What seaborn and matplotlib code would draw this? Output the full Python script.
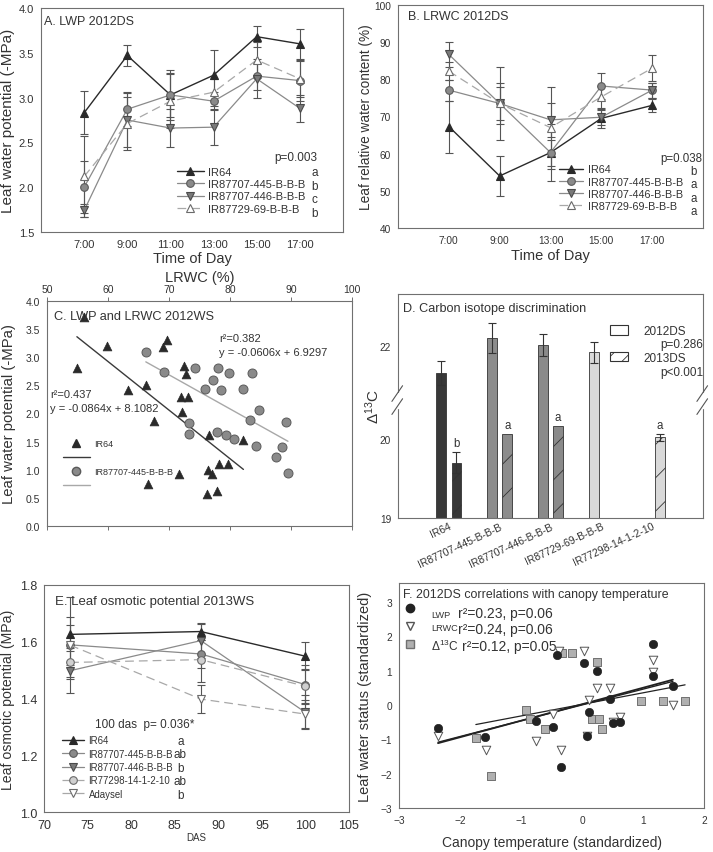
import numpy as np
import pandas as pd
import matplotlib
matplotlib.use("Agg")
import matplotlib.pyplot as plt
from matplotlib.lines import Line2D
from matplotlib.patches import Patch
import seaborn as sns

# ---------------- data ----------------
G_IR64 = "IR64"
G_445 = "IR87707-445-B-B-B"
G_446 = "IR87707-446-B-B-B"
G_69 = "IR87729-69-B-B-B"
G_77298 = "IR77298-14-1-2-10"
G_ADA = "Adaysel"

# Panel A: leaf water potential 2012DS
times_A = ["7:00", "9:00", "11:00", "13:00", "15:00", "17:00"]
lwp_IR64 = [2.83, 3.47, 3.03, 3.25, 3.68, 3.60]
lwp_IR64_se = [0.24, 0.12, 0.28, 0.28, 0.12, 0.17]
lwp_445 = [2.00, 2.87, 3.03, 2.96, 3.24, 3.19]
lwp_445_se = [0.29, 0.19, 0.25, 0.10, 0.15, 0.23]
lwp_446 = [1.74, 2.75, 2.66, 2.67, 3.21, 2.88]
lwp_446_se = [0.07, 0.30, 0.21, 0.20, 0.22, 0.15]
lwp_69 = [2.12, 2.71, 2.96, 3.06, 3.42, 3.21]
lwp_69_se = [0.45, 0.30, 0.30, 0.15, 0.20, 0.20]
letters_A = ["a", "b", "c", "b"]

# Panel B: leaf relative water content 2012DS
times_B = ["7:00", "9:00", "13:00", "15:00", "17:00"]
lrwc_IR64 = [67.3, 54.0, 60.3, 69.5, 73.0]
lrwc_IR64_se = [7.0, 5.3, 3.5, 2.5, 1.8]
lrwc_445 = [77.1, 73.5, 60.3, 78.2, 77.1]
lrwc_445_se = [2.8, 4.5, 7.7, 3.5, 2.0]
lrwc_446 = [86.7, 73.5, 69.1, 69.8, 77.1]
lrwc_446_se = [3.3, 9.7, 4.5, 2.0, 2.0]
lrwc_69 = [82.2, 73.5, 67.0, 75.3, 83.0]
lrwc_69_se = [2.5, 5.5, 11.0, 3.0, 3.5]
letters_B = ["b", "a", "a", "a"]

# Panel C: LWP vs LRWC 2012WS
c_IR64_lrwc = [56.1, 54.9, 59.9, 69.0, 69.6, 66.2, 63.2, 72.4, 72.8, 71.9, 73.1,
               72.1, 67.6, 76.5, 82.2, 78.2, 79.6, 76.4, 77.1, 71.7, 66.6, 76.3, 77.9]
c_IR64_lwp = [3.71, 2.81, 3.20, 3.19, 3.31, 2.51, 2.41, 2.85, 2.70, 2.29, 2.29,
              2.03, 1.86, 1.61, 1.53, 1.11, 1.10, 0.99, 0.92, 0.92, 0.75, 0.57, 0.62]
c_445_lrwc = [66.2, 69.2, 74.2, 77.2, 78.1, 79.8, 83.6, 75.9, 78.6, 82.1, 84.8,
              73.3, 83.2, 89.2, 73.3, 77.9, 79.4, 80.6, 84.3, 88.6, 87.6, 89.5]
c_445_lwp = [3.09, 2.73, 2.81, 2.60, 2.81, 2.72, 2.72, 2.44, 2.42, 2.43, 2.06,
             1.83, 1.88, 1.85, 1.64, 1.68, 1.61, 1.55, 1.42, 1.41, 1.23, 0.94]
c_fit_slope = [-0.0864, -0.0606]
c_fit_intercept = [8.1082, 6.9297]
c_fit_r2 = [0.437, 0.382]

# Panel D: carbon isotope discrimination
genotypes_D = [G_IR64, G_445, G_446, G_69, G_77298]
seasons_D = ["2012DS", "2013DS"]
d13c_2012 = [21.66, 22.10, 22.02, 21.92, np.nan]
d13c_2012_se = [0.15, 0.19, 0.14, 0.13, np.nan]
d13c_2013 = [19.70, 20.06, 20.16, np.nan, 20.02]
d13c_2013_se = [0.13, 0.0, 0.0, np.nan, 0.04]
letters_D = ["b", "a", "a", "", "a"]
p_D = ["p=0.286", "p<0.001"]

# Panel E: leaf osmotic potential 2013WS
das_E = [73, 88, 100]
osm_IR64 = [1.626, 1.636, 1.549]
osm_IR64_se = [0.06, 0.03, 0.05]
osm_445 = [1.589, 1.557, 1.449]
osm_445_se = [0.17, 0.05, 0.07]
osm_446 = [1.498, 1.604, 1.351]
osm_446_se = [0.03, 0.06, 0.06]
osm_77298 = [1.527, 1.537, 1.443]
osm_77298_se = [0.05, 0.08, 0.06]
osm_ada = [1.588, 1.398, 1.345]
osm_ada_se = [0.07, 0.05, 0.05]
letters_E = ["a", "ab", "b", "ab", "b"]

# Panel F: standardized correlations with canopy temperature
f_lwp_ct = [-2.36, -1.59, -0.75, -0.48, -0.41, -0.35, 0.03, 0.12, 0.09, 0.25,
            0.46, 0.51, 0.63, 1.16, 1.16, 1.49]
f_lwp = [-0.66, -0.93, -0.46, -0.63, 1.44, -1.80, 1.22, -0.21, -0.91, 1.00,
         0.17, -0.52, -0.50, 1.76, 0.83, 0.56]
f_lrwc_ct = [-2.36, -1.58, -0.75, -0.47, -0.35, -0.38, 0.03, 0.12, 0.09, 0.25,
             0.46, 0.51, 0.63, 1.16, 1.16, 1.49]
f_lrwc = [-0.89, -1.30, -1.04, -0.26, -1.30, 1.58, 1.56, 0.15, -0.91, 0.49,
          0.49, -0.50, -0.34, 1.32, 0.95, 0.00]
f_d13c_ct = [-1.74, -1.50, -0.91, -0.86, -0.60, -0.33, -0.16, 0.25, 0.17, 0.28,
             0.33, 0.96, 1.33, 1.69]
f_d13c = [-0.96, -2.07, -0.15, -0.41, -0.70, 1.50, 1.50, 1.24, -0.41, -0.41,
          -0.70, 0.12, 0.12, 0.12]
f_fit_slope = [0.48, 0.46, 0.337]
f_fit_intercept = [0.02, 0.00, 0.016]
f_stats = ["r\u00b2=0.23, p=0.06", "r\u00b2=0.24, p=0.06", "r\u00b2=0.12, p=0.05"]

# ---------------- styling ----------------
sns.set_theme(style="white")
plt.rcParams["font.family"] = ["Liberation Sans", "DejaVu Sans"]
plt.rcParams["mathtext.default"] = "regular"
plt.rcParams["hatch.linewidth"] = 0.6
TXT = "#333333"
SPINE = "#707070"
plt.rcParams["text.color"] = TXT

STY = {
    G_IR64: dict(color="#2a2a2a", ls="-", marker="^", mfc="#2a2a2a", mec="#2a2a2a", lw=1.0),
    G_445: dict(color="#8a8a8a", ls="-", marker="o", mfc="#8a8a8a", mec="#5a5a5a", lw=0.9),
    G_446: dict(color="#8a8a8a", ls="-", marker="v", mfc="#7a7a7a", mec="#4a4a4a", lw=0.9),
    G_69: dict(color="#a8a8a8", ls=(0, (7, 4)), marker="^", mfc="white", mec="#6a6a6a", lw=0.9),
    G_77298: dict(color="#a8a8a8", ls=(0, (7, 4)), marker="o", mfc="#d0d0d0", mec="#6a6a6a", lw=0.9),
    G_ADA: dict(color="#a8a8a8", ls=(0, (7, 4)), marker="v", mfc="white", mec="#6a6a6a", lw=0.9),
}

W, H = 713, 853
fig = plt.figure(figsize=(W / 100, H / 100), dpi=100)


def add_ax(x0, y0, x1, y1):
    return fig.add_axes([x0 / W, 1 - y1 / H, (x1 - x0) / W, (y1 - y0) / H])


def style_ax(ax, tick_size=7):
    for s in ax.spines.values():
        s.set_color(SPINE)
        s.set_linewidth(0.8)
    ax.tick_params(direction="out", length=3, width=0.7, color=SPINE,
                   labelsize=tick_size, labelcolor=TXT, pad=2)


def line_panel(ax, xpos, names, ys, ses, ms=5.5):
    for name, y, se in zip(names, ys, ses):
        ax.errorbar(xpos, y, yerr=se, fmt="none", ecolor="#555555", elinewidth=0.8,
                    capsize=3, capthick=0.8, zorder=2)
    for name, y in zip(names, ys):
        st = STY[name]
        sns.lineplot(x=xpos, y=y, ax=ax, color=st["color"], linestyle=st["ls"],
                     linewidth=st["lw"], marker=st["marker"], markersize=ms,
                     markerfacecolor=st["mfc"], markeredgecolor=st["mec"],
                     markeredgewidth=0.8, zorder=3)


def legend_handles(names, ms=5.5):
    hs = []
    for n in names:
        st = STY[n]
        hs.append(Line2D([], [], color=st["color"], linestyle=st["ls"], linewidth=st["lw"],
                         marker=st["marker"], markersize=ms, markerfacecolor=st["mfc"],
                         markeredgecolor=st["mec"], markeredgewidth=0.8))
    return hs


# ---------------- Panel A ----------------
axA = add_ax(41, 9, 343, 233)
names_A = [G_IR64, G_445, G_446, G_69]
xA = list(range(len(times_A)))
line_panel(axA, xA, names_A, [lwp_IR64, lwp_445, lwp_446, lwp_69],
           [lwp_IR64_se, lwp_445_se, lwp_446_se, lwp_69_se])
axA.set_xlim(-1, 6)
axA.set_ylim(1.5, 4.0)
axA.set_xticks(xA)
axA.set_xticklabels(times_A)
axA.set_yticks(np.arange(1.5, 4.01, 0.5))
style_ax(axA, 8)
axA.set_xlabel("Time of Day", fontsize=10.5, color=TXT)
axA.set_ylabel("Leaf water potential (-MPa)", fontsize=11, color=TXT)
axA.yaxis.set_label_coords(-0.085, 0.5)
axA.xaxis.set_label_coords(0.5, -0.085)
axA.text(0.01, 0.94, "A. LWP 2012DS", transform=axA.transAxes, fontsize=9, va="center")
legA = axA.legend(legend_handles(names_A), names_A, loc="upper left",
                  bbox_to_anchor=(0.45, 0.29), frameon=False, fontsize=8.0,
                  handlelength=2.4, handletextpad=0.4, labelspacing=0.2,
                  borderpad=0, borderaxespad=0)
for t in legA.get_texts():
    t.set_color(TXT)
axA.text(0.915, 0.335, "p=0.003", transform=axA.transAxes, fontsize=8.5, ha="right", va="center")
for i, l in enumerate(letters_A):
    axA.text(0.905, 0.266 - i * 0.060, l, transform=axA.transAxes, fontsize=8.5,
             ha="center", va="center")

# ---------------- Panel B ----------------
axB = add_ax(398, 6, 703, 229)
xB = list(range(len(times_B)))
line_panel(axB, xB, names_A, [lrwc_IR64, lrwc_445, lrwc_446, lrwc_69],
           [lrwc_IR64_se, lrwc_445_se, lrwc_446_se, lrwc_69_se])
axB.set_xlim(-1, 5)
axB.set_ylim(40, 100)
axB.set_xticks(xB)
axB.set_xticklabels(times_B)
axB.set_yticks(np.arange(40, 101, 10))
style_ax(axB, 7.3)
axB.set_xlabel("Time of Day", fontsize=10.5, color=TXT)
axB.set_ylabel("Leaf relative water content (%)", fontsize=9.8, color=TXT)
axB.yaxis.set_label_coords(-0.082, 0.5)
axB.xaxis.set_label_coords(0.5, -0.09)
axB.text(0.033, 0.95, "B. LRWC 2012DS", transform=axB.transAxes, fontsize=9, va="center")
legB = axB.legend(legend_handles(names_A), names_A, loc="upper left",
                  bbox_to_anchor=(0.528, 0.285), frameon=False, fontsize=7.8,
                  handlelength=2.2, handletextpad=0.5, labelspacing=0.2,
                  borderpad=0, borderaxespad=0)
for t in legB.get_texts():
    t.set_color(TXT)
axB.text(0.998, 0.314, "p=0.038", transform=axB.transAxes, fontsize=8.3, ha="right", va="center")
for i, l in enumerate(letters_B):
    axB.text(0.97, 0.256 - i * 0.06, l, transform=axB.transAxes, fontsize=8.3,
             ha="center", va="center")

# ---------------- Panel C ----------------
axC = add_ax(47, 302, 352, 527)
sns.scatterplot(x=c_IR64_lrwc, y=c_IR64_lwp, ax=axC, marker="^", s=40, color="#2a2a2a",
                edgecolor="#2a2a2a", linewidth=0.5, zorder=3)
sns.scatterplot(x=c_445_lrwc, y=c_445_lwp, ax=axC, marker="o", s=42, color="#8a8a8a",
                edgecolor="#5a5a5a", linewidth=0.7, zorder=3)
fit_colors = ["#3a3a3a", "#a8a8a8"]
for xs, sl, ic, col in zip([c_IR64_lrwc, c_445_lrwc], c_fit_slope, c_fit_intercept, fit_colors):
    xr = np.array([min(xs), max(xs)])
    sns.lineplot(x=xr, y=sl * xr + ic, ax=axC, color=col, linewidth=1.0, zorder=2)
axC.set_xlim(50, 100)
axC.set_ylim(0, 4)
axC.set_xticks(np.arange(50, 101, 10))
axC.set_yticks(np.arange(0, 4.01, 0.5))
axC.set_yticklabels([f"{v:.1f}" for v in np.arange(0, 4.01, 0.5)])
style_ax(axC, 7.5)
axC.tick_params(axis="x", top=True, labeltop=True, bottom=True, labelbottom=False)
axC.xaxis.set_label_position("top")
axC.set_xlabel("LRWC (%)", fontsize=10.5, color=TXT)
axC.xaxis.set_label_coords(0.5, 1.088)
axC.set_ylabel("Leaf water potential (-MPa)", fontsize=10.7, color=TXT)
axC.yaxis.set_label_coords(-0.1, 0.5)
axC.text(0.023, 0.933, "C. LWP and LRWC 2012WS", transform=axC.transAxes, fontsize=9.2, va="center")
axC.text(0.565, 0.836, f"r\u00b2={c_fit_r2[1]}", transform=axC.transAxes, fontsize=8, va="center")
axC.text(0.565, 0.773, f"y = {c_fit_slope[1]}x + {c_fit_intercept[1]}", transform=axC.transAxes,
         fontsize=8, va="center")
axC.text(0.01, 0.587, f"r\u00b2={c_fit_r2[0]}", transform=axC.transAxes, fontsize=8, va="center")
axC.text(0.01, 0.524, f"y = {c_fit_slope[0]}x + {c_fit_intercept[0]}", transform=axC.transAxes,
         fontsize=8, va="center")
hC = [Line2D([], [], ls="none", marker="^", ms=6, color="#2a2a2a"),
      Line2D([], [], color="#3a3a3a", lw=1.0),
      Line2D([], [], ls="none", marker="o", ms=6, markerfacecolor="#8a8a8a", markeredgecolor="#5a5a5a"),
      Line2D([], [], color="#a8a8a8", lw=1.0)]
legC = axC.legend(hC, ["IR64", " ", G_445, " "], loc="upper left", bbox_to_anchor=(0.052, 0.385),
                  frameon=False, fontsize=6.5, handlelength=3.0, handletextpad=0.5,
                  labelspacing=0.55, borderpad=0, borderaxespad=0, numpoints=1)
for t in legC.get_texts():
    t.set_color(TXT)

# ---------------- Panel D ----------------
axD = add_ax(398, 295, 703, 519)
rows = []
for g, v12, v13 in zip(genotypes_D, d13c_2012, d13c_2013):
    if not np.isnan(v12):
        rows.append(dict(genotype=g, season=seasons_D[0], d13c=v12))
    if not np.isnan(v13):
        rows.append(dict(genotype=g, season=seasons_D[1], d13c=v13))
dfD = pd.DataFrame(rows)
sns.barplot(data=dfD, x="genotype", y="d13c", hue="season", order=genotypes_D,
            hue_order=seasons_D, width=0.6, gap=0.37, errorbar=None, legend=False,
            palette=["#888888", "#888888"], ax=axD, zorder=2)
bar_colors = ["#383838", "#8c8c8c", "#8a8a8a", "#d9d9d9", "#d9d9d9"]
for ci, cont in enumerate(axD.containers):
    for bar in cont:
        gi = int(round(bar.get_x() + bar.get_width() / 2))
        bar.set_facecolor(bar_colors[gi])
        bar.set_edgecolor("#333333")
        bar.set_linewidth(0.6)
        if ci == 1:
            bar.set_hatch("/")
off = 0.15
idx = np.arange(len(genotypes_D))
axD.errorbar(idx - off, d13c_2012, yerr=d13c_2012_se, fmt="none", ecolor="#333333",
             elinewidth=0.8, capsize=3, capthick=0.8, zorder=3)
se13 = np.where(np.array(d13c_2013_se) > 0, d13c_2013_se, np.nan)
axD.errorbar(idx + off, d13c_2013, yerr=se13, fmt="none", ecolor="#333333",
             elinewidth=0.8, capsize=3, capthick=0.8, zorder=3)
for i, (v, s, l) in enumerate(zip(d13c_2013, d13c_2013_se, letters_D)):
    if l:
        axD.text(i + off, v + s + 0.04, l, fontsize=8.3, ha="center", va="bottom")

lo, hi, g = 20.41, 21.40, 0.165


def fwd(v):
    v = np.asarray(v, float)
    return np.where(v <= lo, v, np.where(v >= hi, v - (hi - lo) + g, lo + (v - lo) * g / (hi - lo)))


def inv(u):
    u = np.asarray(u, float)
    return np.where(u <= lo, u, np.where(u >= lo + g, u + (hi - lo) - g, lo + (u - lo) * (hi - lo) / g))


axD.set_yscale("function", functions=(fwd, inv))
axD.set_ylim(19, 22.66)
axD.set_xlim(-1, 5)
axD.set_yticks([19, 20, 22])
axD.set_yticklabels(["19", "20", "22"])
axD.yaxis.set_minor_locator(matplotlib.ticker.NullLocator())
style_ax(axD, 7.3)
axD.tick_params(axis="x", direction="in", length=2)
axD.set_xticks(idx)
axD.set_xticklabels(genotypes_D, rotation=25, ha="right", rotation_mode="anchor", fontsize=7.5)
axD.set_xlabel("")
axD.set_ylabel("$\\Delta^{13}$C", fontsize=11, color=TXT)
axD.yaxis.set_label_coords(-0.052, 0.5)
axD.text(0.016, 0.9375, "D. Carbon isotope discrimination", transform=axD.transAxes,
         fontsize=9.1, va="center")
# axis-break marks
ymax_t = float(fwd(22.66))
f_lo = (lo - 19) / (ymax_t - 19)
f_hi = (lo + g - 19) / (ymax_t - 19)
for xb in (0, 1):
    axD.plot([xb, xb], [f_lo, f_hi], transform=axD.transAxes, color="white", lw=2.5,
             clip_on=False, zorder=5)
    for fb in (f_lo, f_hi):
        axD.plot([xb - 0.02, xb + 0.015], [fb - 0.035, fb + 0.035], transform=axD.transAxes,
                 color="#555555", lw=0.8, clip_on=False, zorder=6)
hD = [Patch(facecolor="white", edgecolor="#333333", linewidth=0.8),
      Patch(facecolor="white", edgecolor="#333333", linewidth=0.8, hatch="//")]
legD = axD.legend(hD, seasons_D, loc="upper left", bbox_to_anchor=(0.695, 0.86),
                  frameon=False, fontsize=8.5, handlelength=1.5, handleheight=0.9,
                  handletextpad=1.3, labelspacing=1.2, borderpad=0, borderaxespad=0)
for t in legD.get_texts():
    t.set_color(TXT)
axD.text(1.0, 0.777, p_D[0], transform=axD.transAxes, fontsize=8.5, ha="right", va="center")
axD.text(1.0, 0.652, p_D[1], transform=axD.transAxes, fontsize=8.5, ha="right", va="center")

# ---------------- Panel E ----------------
axE = add_ax(44, 586, 349, 813)
names_E = [G_IR64, G_445, G_446, G_77298, G_ADA]
line_panel(axE, das_E, names_E, [osm_IR64, osm_445, osm_446, osm_77298, osm_ada],
           [osm_IR64_se, osm_445_se, osm_446_se, osm_77298_se, osm_ada_se], ms=5.5)
axE.set_xlim(70, 105)
axE.set_ylim(1.0, 1.8)
axE.set_xticks(np.arange(70, 106, 5))
axE.set_yticks(np.arange(1.0, 1.81, 0.2))
axE.set_yticklabels([f"{v:.1f}" for v in np.arange(1.0, 1.81, 0.2)])
style_ax(axE, 9)
axE.set_xlabel("DAS", fontsize=7, color=TXT)
axE.xaxis.set_label_coords(0.5, -0.088)
axE.set_ylabel("Leaf osmotic potential (MPa)", fontsize=10.2, color=TXT)
axE.yaxis.set_label_coords(-0.095, 0.5)
axE.text(0.036, 0.93, "E. Leaf osmotic potential 2013WS", transform=axE.transAxes,
         fontsize=9.5, va="center")
axE.text(0.167, 0.388, "100 das  p= 0.036*", transform=axE.transAxes, fontsize=8.5, va="center")
legE = axE.legend(legend_handles(names_E), names_E, loc="upper left",
                  bbox_to_anchor=(0.058, 0.338), frameon=False, fontsize=6.9,
                  handlelength=2.3, handletextpad=0.5, labelspacing=0.35,
                  borderpad=0, borderaxespad=0)
for t in legE.get_texts():
    t.set_color(TXT)
for i, l in enumerate(letters_E):
    axE.text(0.447, 0.313 - i * 0.059, l, transform=axE.transAxes, fontsize=8.5,
             ha="center", va="center")

# ---------------- Panel F ----------------
axF = add_ax(399, 584, 704, 809)
sns.scatterplot(x=f_d13c_ct, y=f_d13c, ax=axF, marker="s", s=34, color="#b0b0b0",
                edgecolor="#707070", linewidth=0.7, zorder=3)
sns.scatterplot(x=f_lrwc_ct, y=f_lrwc, ax=axF, marker="v", s=38, color="white",
                edgecolor="#555555", linewidth=0.7, zorder=4)
sns.scatterplot(x=f_lwp_ct, y=f_lwp, ax=axF, marker="o", s=36, color="#222222",
                edgecolor="#222222", linewidth=0.5, zorder=5)
for xs, sl, ic, lw in zip([f_lwp_ct, f_lrwc_ct, f_d13c_ct], f_fit_slope, f_fit_intercept,
                          [1.3, 1.0, 0.9]):
    xr = np.array([min(xs), max(xs)])
    sns.lineplot(x=xr, y=sl * xr + ic, ax=axF, color="#222222", linewidth=lw, zorder=2)
axF.set_xlim(-3, 2)
axF.set_ylim(-3, 3.55)
axF.set_xticks(np.arange(-3, 3, 1))
axF.set_yticks(np.arange(-3, 4, 1))
style_ax(axF, 7.3)
axF.set_xlabel("Canopy temperature (standardized)", fontsize=10, color=TXT)
axF.xaxis.set_label_coords(0.5, -0.12)
axF.set_ylabel("Leaf water status (standardized)", fontsize=10.5, color=TXT)
axF.yaxis.set_label_coords(-0.089, 0.5)
axF.text(0.013, 0.95, "F. 2012DS correlations with canopy temperature", transform=axF.transAxes,
         fontsize=8.9, va="center")
hF = [Line2D([], [], ls="none", marker="o", ms=6, markerfacecolor="#222222", markeredgecolor="#222222"),
      Line2D([], [], ls="none", marker="v", ms=6, markerfacecolor="white", markeredgecolor="#555555"),
      Line2D([], [], ls="none", marker="s", ms=5.5, markerfacecolor="#b0b0b0", markeredgecolor="#707070")]
legF = axF.legend(hF, [" ", " ", " "], loc="upper left", bbox_to_anchor=(0.005, 0.91),
                  frameon=False, fontsize=9.5, handlelength=1.5, handletextpad=0.2,
                  labelspacing=0.45, borderpad=0, borderaxespad=0, numpoints=1)
axF.text(0.105, 0.862, "LWP", transform=axF.transAxes, fontsize=6.6, va="center")
axF.text(0.105, 0.802, "LRWC", transform=axF.transAxes, fontsize=6.6, va="center")
axF.text(0.105, 0.724, "$\\Delta^{13}$C", transform=axF.transAxes, fontsize=8.6, va="center")
axF.text(0.193, 0.866, f_stats[0], transform=axF.transAxes, fontsize=10, va="center")
axF.text(0.193, 0.794, f_stats[1], transform=axF.transAxes, fontsize=10, va="center")
axF.text(0.207, 0.722, f_stats[2], transform=axF.transAxes, fontsize=10, va="center")

fig.savefig("out.png", dpi=100)
